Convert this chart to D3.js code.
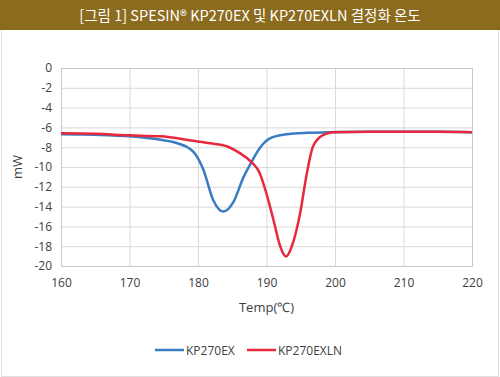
<!DOCTYPE html>
<html>
<head>
<meta charset="utf-8">
<script src="https://cdn.jsdelivr.net/npm/d3@7"></script>
<style>
  body { margin: 0; background: #fff; }
  svg { display: block; }
  .tick text { font-family: "Open Sans", "Noto Sans", sans-serif; font-size: 12px; fill: #404040; }
</style>
</head>
<body>
<div id="chart"></div>
<script>
// title + series names
const titleText = "[그림 1] SPESIN® KP270EX 및 KP270EXLN 결정화 온도";
const seriesNames = ["KP270EX", "KP270EXLN"];

// temperature (°C)
const tempEX = [160, 165, 170, 174.5, 177, 179.3, 180.8, 182.2, 183.7, 185.2, 186.6, 187.8, 189, 190.5, 192.9, 196, 198.8, 205, 210, 215, 220];
const valEX  = [-6.7, -6.75, -6.9, -7.25, -7.6, -8.45, -10.3, -13.3, -14.5, -13.5, -11.1, -9.5, -8.1, -7.1, -6.7, -6.55, -6.5, -6.45, -6.45, -6.45, -6.5];

const tempLN = [160, 165, 170, 174.5, 179.3, 181.8, 184.2, 186.1, 187.8, 189, 190, 191, 192, 192.85, 193.7, 194.9, 195.9, 196.8, 198.3, 199.75, 205, 210, 215, 220];
const valLN  = [-6.6, -6.65, -6.8, -6.9, -7.35, -7.6, -7.9, -8.6, -9.5, -10.6, -12.7, -15.3, -18.0, -19.05, -18.0, -14.7, -10.6, -7.9, -6.75, -6.5, -6.45, -6.45, -6.45, -6.5];

const xTicks = [160, 170, 180, 190, 200, 210, 220];
const yTicks = [0, -2, -4, -6, -8, -10, -12, -14, -16, -18, -20];

const colors = ["#3a7cc3", "#e8283c"];

const W = 500, H = 377;
const margin = {top: 68, right: 28, bottom: 111, left: 61};
const width = W - margin.left - margin.right;
const height = H - margin.top - margin.bottom;

const svg = d3.select("#chart").append("svg")
    .attr("width", W)
    .attr("height", H);

// outer frame
svg.append("rect")
    .attr("x", 1.5).attr("y", 0.5)
    .attr("width", W - 3).attr("height", H - 1)
    .attr("fill", "none")
    .attr("stroke", "#e0e0e0");

// title banner
svg.append("rect")
    .attr("x", 0).attr("y", 0)
    .attr("width", W).attr("height", 30)
    .attr("fill", "#8b6b1d");

svg.append("text")
    .attr("x", W / 2).attr("y", 20.5)
    .attr("text-anchor", "middle")
    .attr("font-family", "'Noto Sans CJK KR', sans-serif")
    .attr("font-size", 14.5)
    .attr("fill", "#fff")
    .text(titleText);

const g = svg.append("g")
    .attr("transform", "translate(" + margin.left + "," + margin.top + ")");

// scales
const x = d3.scaleLinear().domain([160, 220]).range([0, width]);
const y = d3.scaleLinear().domain([-20, 0]).range([height, 0]);

// gridlines
g.append("g").selectAll("line")
    .data(yTicks)
    .join("line")
    .attr("x1", 0).attr("x2", width)
    .attr("y1", d => y(d) + 0.5).attr("y2", d => y(d) + 0.5)
    .attr("stroke", "#d9d9d9");

g.append("g").selectAll("line")
    .data(xTicks)
    .join("line")
    .attr("x1", d => x(d) + 0.5).attr("x2", d => x(d) + 0.5)
    .attr("y1", 0).attr("y2", height)
    .attr("stroke", "#d9d9d9");

g.append("rect")
    .attr("x", 0.5).attr("y", 0.5)
    .attr("width", width).attr("height", height)
    .attr("fill", "none")
    .attr("stroke", "#c8c8c8");

// axes (labels only)
const xAxis = d3.axisBottom(x).tickValues(xTicks).tickSize(0).tickPadding(12);
g.append("g")
    .attr("transform", "translate(0," + height + ")")
    .call(xAxis)
    .call(a => a.select(".domain").remove());

// plain hyphen for negatives, like the original
const yAxis = d3.axisLeft(y).tickValues(yTicks).tickSize(0).tickPadding(9)
    .tickFormat(d => String(d));
g.append("g")
    .call(yAxis)
    .call(a => a.select(".domain").remove());

// axis titles
svg.append("text")
    .attr("x", margin.left + width / 2).attr("y", 312)
    .attr("text-anchor", "middle")
    .attr("font-family", "'Open Sans', sans-serif")
    .attr("font-size", 13)
    .attr("fill", "#404040")
    .text("Temp(℃)");

const yTitle = svg.append("g")
    .attr("transform", "translate(22," + (margin.top + height / 2) + ") rotate(-90)");
yTitle.append("text")
    .attr("text-anchor", "middle")
    .attr("font-family", "'Open Sans', sans-serif")
    .attr("font-size", 13)
    .attr("fill", "#404040")
    .text("mW");

// lines
const line = d3.line()
    .x(d => x(d[0]))
    .y(d => y(d[1]))
    .curve(d3.curveMonotoneX);

const series = [
    d3.zip(tempEX, valEX),
    d3.zip(tempLN, valLN)
];

g.selectAll(".series")
    .data(series)
    .join("path")
    .attr("class", "series")
    .attr("d", line)
    .attr("fill", "none")
    .attr("stroke", (d, i) => colors[i])
    .attr("stroke-width", 2.5);

// legend
const legendX = [155, 247];
const legend = svg.selectAll(".legend")
    .data(seriesNames)
    .join("g")
    .attr("class", "legend")
    .attr("transform", (d, i) => "translate(" + legendX[i] + ",350)");

legend.append("line")
    .attr("x1", 0).attr("x2", 29)
    .attr("stroke", (d, i) => colors[i])
    .attr("stroke-width", 2.5);

legend.append("text")
    .attr("x", 31).attr("y", 4.5)
    .attr("font-family", "'Open Sans', sans-serif")
    .attr("font-size", 12)
    .attr("fill", "#404040")
    .text(d => d);
</script>
</body>
</html>
